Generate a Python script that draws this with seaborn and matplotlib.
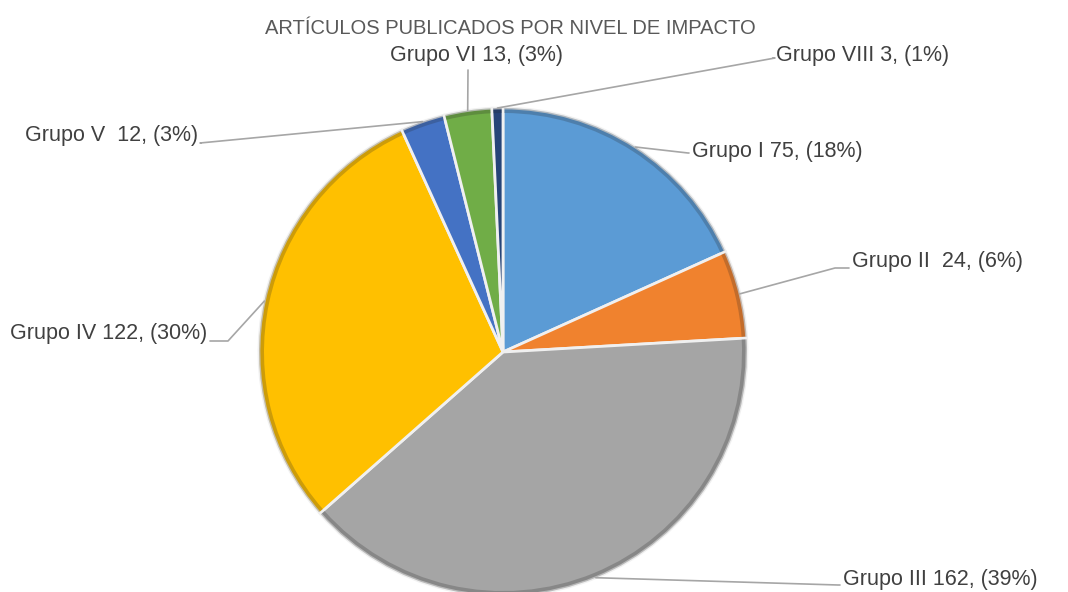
import matplotlib

matplotlib.use("Agg")
import matplotlib.pyplot as plt
import numpy as np
import seaborn as sns
from matplotlib.patches import Wedge

sns.set_theme(style="white")
plt.rcParams["font.family"] = ["Liberation Sans", "DejaVu Sans"]

# data
groups = ["Grupo I", "Grupo II ", "Grupo III", "Grupo IV", "Grupo V ", "Grupo VI", "Grupo VIII"]
counts = [75, 24, 162, 122, 12, 13, 3]
colors = ["#5B9BD5", "#F0822E", "#A5A5A5", "#FFC000", "#4472C4", "#70AD47", "#264478"]
title = "ARTÍCULOS PUBLICADOS POR NIVEL DE IMPACTO"

# label layout in pixel coords: (knee x, knee y, text x, text y, ha)
label_pos = [
    (688, 153, 692, 152, "left"),
    (835, 268, 852, 262, "left"),
    (838, 585, 843, 580, "left"),
    (228, 341, 207, 334, "right"),
    (200, 143, 198, 136, "right"),
    (468, 70, 477, 56, "center"),
    (775, 58, 776, 56, "left"),
]

H = 592
total = sum(counts)
labels = [f"{g} {c}, ({round(100 * c / total):.0f}%)" for g, c in zip(groups, counts)]

fig = plt.figure(figsize=(10.68, 5.92), dpi=100)
ax = fig.add_axes([0, 0, 1, 1])

center = (503, H - 352)
radius = 244
wedges, _ = ax.pie(
    counts,
    colors=colors,
    startangle=90,
    counterclock=False,
    center=center,
    radius=radius,
    explode=[0.016] * len(counts),
    wedgeprops=dict(edgecolor="#f0f0f0", linewidth=2.0),
)
# darker rim to hint at the bevel of the original
for w, c in zip(wedges, colors):
    dark = sns.dark_palette(c, n_colors=4)[1]
    rim = Wedge(w.center, w.r, w.theta1 + 0.3, w.theta2 - 0.3, width=5,
                facecolor=dark, edgecolor="none", alpha=0.35)
    ax.add_patch(rim)

ax.set_xlim(0, 1068)
ax.set_ylim(0, H)
ax.set_axis_off()

for w, lab, (kx, ky, tx, ty, ha) in zip(wedges, labels, label_pos):
    mid = np.deg2rad((w.theta1 + w.theta2) / 2)
    ax_x = w.center[0] + w.r * np.cos(mid)
    ax_y = w.center[1] + w.r * np.sin(mid)
    end_x = tx - 3 if ha == "left" else tx + 3 if ha == "right" else kx
    ax.plot([ax_x, kx, end_x], [ax_y, H - ky, H - ky], color="#a6a6a6", lw=1.2)
    ax.text(tx, H - ty, lab, ha=ha, va="center", fontsize=15.5, color="#404040")

ax.text(510, H - 29, title, ha="center", va="center", fontsize=14.5, color="#595959")

fig.savefig("out.png", dpi=100)
